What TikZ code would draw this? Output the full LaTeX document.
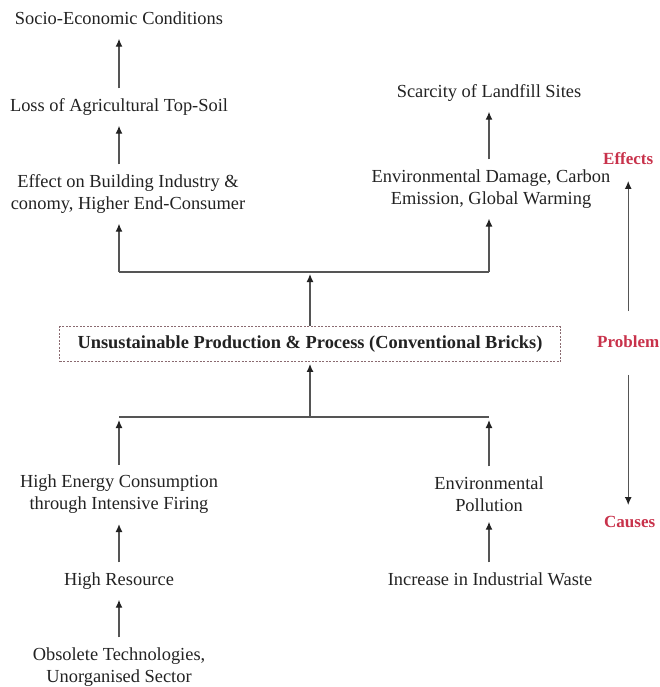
\documentclass[tikz,border=0pt]{standalone}
\usepackage{fontspec}
\setmainfont{Liberation Serif}
\usetikzlibrary{arrows.meta}
\definecolor{ink}{HTML}{222222}
\definecolor{wire}{HTML}{555555}
\definecolor{lbl}{HTML}{C8324B}
\definecolor{boxc}{HTML}{8A6A70}
\begin{document}
\begin{tikzpicture}[x=1pt,y=-1pt,
  txt/.style={font=\fontsize{18.4}{22}\selectfont, text=ink, inner xsep=1pt, inner ysep=10pt, align=center},
  one/.style={text height=13pt, text depth=4pt},
  arr/.style={draw=wire, line width=1.3pt, -{Latex[length=8pt,width=7pt,color=ink]}},
  wirel/.style={draw=wire, line width=1.7pt},
  side/.style={font=\fontsize{17}{20}\selectfont\bfseries, text=lbl, inner xsep=0pt, anchor=west, text height=12pt, text depth=3.5pt}]
\useasboundingbox (0,0) rectangle (660,687);

\node[txt,one] (socio) at (119,20) {Socio-Economic Conditions};
\node[txt,one] (loss) at (119,107) {Loss of Agricultural Top-Soil};
\node[txt] (effect) at (128,194) {Effect on Building Industry \&\\conomy, Higher End-Consumer};
\node[txt,one] (scar) at (489,93) {Scarcity of Landfill Sites};
\node[txt] (envd) at (491,189) {Environmental Damage, Carbon\\Emission, Global Warming};
\node[draw=boxc, line width=0.8pt, dash pattern=on 2pt off 1.5pt, minimum width=501pt, minimum height=35pt, inner sep=0pt,
      font=\fontsize{18.4}{22}\selectfont\bfseries, text=ink] (box) at (310,344) {Unsustainable Production \& Process (Conventional Bricks)};
\node[txt] (highen) at (119,494.5) {High Energy Consumption\\through Intensive Firing};
\node[txt,one] (highres) at (119,581) {High Resource};
\node[txt] (obs) at (119,667) {Obsolete Technologies,\\Unorganised Sector};
\node[txt] (envp) at (489,494) {Environmental\\Pollution};
\node[txt,one] (incr) at (490,581) {Increase in Industrial Waste};

\node[side, inner ysep=13pt] (eff) at (603,160) {Effects};
\node[side, inner ysep=24pt] (prob) at (597,343) {Problem};
\node[side, inner ysep=10pt] (caus) at (604,523) {Causes};

\coordinate (jt) at (310,272);
\coordinate (jtl) at (119,272);
\coordinate (jtr) at (489,272);
\coordinate (jb) at (310,417);
\coordinate (jbl) at (119,417);
\coordinate (jbr) at (489,417);

% effects column
\draw[arr] (loss.north -| socio.south) -- (socio.south);
\draw[arr] (effect.north -| loss.south) -- (loss.south);
\draw[arr] (envd.north -| scar.south) -- (scar.south);
\draw[wirel] (jtl) -- (jtr);
\draw[arr] (jtl) -- (jtl |- effect.south);
\draw[arr] (jtr) -- (jtr |- envd.south);
\draw[arr, shorten >=2pt] (box.north) -- (jt);

% causes column
\draw[arr, shorten >=2pt] (jb) -- (box.south);
\draw[wirel] (jbl) -- (jbr);
\draw[arr, shorten >=3pt] (highen.north -| jbl) -- (jbl);
\draw[arr, shorten >=3pt] (envp.north -| jbr) -- (jbr);
\draw[arr] (highres.north -| highen.south) -- (highen.south);
\draw[arr] (obs.north -| highres.south) -- (highres.south);
\draw[arr] (incr.north -| envp.south) -- (envp.south);

% side axis
\draw[arr] (prob.north -| eff.south) -- (eff.south);
\draw[arr] (prob.south -| eff.south) -- (caus.north -| eff.south);
\end{tikzpicture}
\end{document}
